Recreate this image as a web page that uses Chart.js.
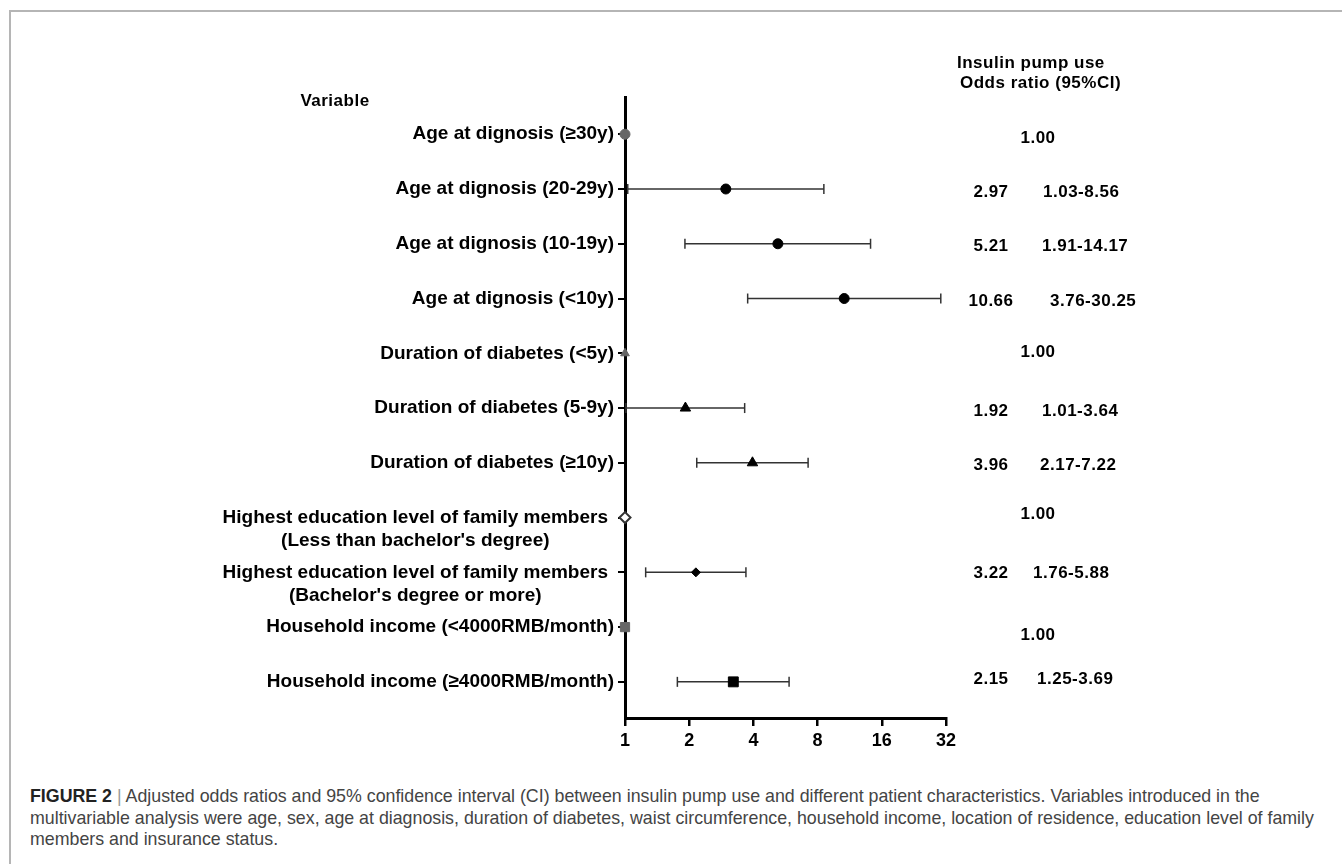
<!DOCTYPE html>
<html>
<head>
<meta charset="utf-8">
<script src="https://cdn.jsdelivr.net/npm/chart.js@4.4.1/dist/chart.umd.min.js"></script>
<style>
  html, body { margin: 0; padding: 0; background: #fff; }
  body { width: 1342px; height: 864px; position: relative; overflow: hidden; font-family: "Liberation Sans", Arial, sans-serif; }
  #frame { position: absolute; left: 9px; top: 10px; width: 1400px; height: 900px; border-left: 2px solid #b5b5b5; border-top: 2px solid #b5b5b5; }
  #chart { position: absolute; left: 0; top: 0; }
  #caption { position: absolute; left: 30px; top: 786px; font-size: 17.8px; line-height: 21.5px; color: #444; white-space: nowrap; }
  #caption b { color: #222; }
  #caption .sep { color: #999; }
</style>
</head>
<body>
<div id="frame"></div>
<canvas id="chart" width="1342" height="760"></canvas>
<div id="caption">
  <b>FIGURE 2</b> <span class="sep">|</span> Adjusted odds ratios and 95% confidence interval (CI) between insulin pump use and different patient characteristics. Variables introduced in the<br>
  multivariable analysis were age, sex, age at diagnosis, duration of diabetes, waist circumference, household income, location of residence, education level of family<br>
  members and insurance status.
</div>
<script>
// rows, top to bottom
const variables = [
    ['Age at dignosis (≥30y)'],
    ['Age at dignosis (20-29y)'],
    ['Age at dignosis (10-19y)'],
    ['Age at dignosis (<10y)'],
    ['Duration of diabetes (<5y)'],
    ['Duration of diabetes (5-9y)'],
    ['Duration of diabetes (≥10y)'],
    ['Highest education level of family members', "(Less than bachelor's degree)"],
    ['Highest education level of family members', "(Bachelor's degree or more)"],
    ['Household income (<4000RMB/month)'],
    ['Household income (≥4000RMB/month)'],
];

// values as plotted in the figure (null = reference group, no interval)
const orPlotted = [1, 2.97, 5.21, 10.66, 1, 1.92, 3.96, 1, 2.15, 1, 3.22];
const ciLower = [null, 1.03, 1.91, 3.76, null, 1.01, 2.17, null, 1.25, null, 1.76];
const ciUpper = [null, 8.56, 14.17, 30.25, null, 3.64, 7.22, null, 3.69, null, 5.88];

// text column on the right
const orText = ['1.00', '2.97', '5.21', '10.66', '1.00', '1.92', '3.96', '1.00', '3.22', '1.00', '2.15'];
const ciText = ['', '1.03-8.56', '1.91-14.17', '3.76-30.25', '', '1.01-3.64', '2.17-7.22', '', '1.76-5.88', '', '1.25-3.69'];

const xTicks = [1, 2, 4, 8, 16, 32];

// marker look per row
const shapes = ['circle', 'circle', 'circle', 'circle', 'triangle', 'triangle', 'triangle', 'rectRot', 'rectRot', 'rect', 'rect'];
const radii = [5, 5, 5, 5, 5, 6, 6, 5.5, 4.5, 6.5, 7];
const fills = ['#666', '#000', '#000', '#000', '#666', '#000', '#000', '#fff', '#000', '#666', '#000'];
const strokes = ['#666', '#000', '#000', '#000', '#666', '#000', '#000', '#333', '#000', '#666', '#000'];
const strokeW = [1, 1, 1, 1, 1, 1, 1, 2, 1, 1, 1];

// layout of the text column
const ciTextX = [0, 1043, 1042, 1050, 0, 1042, 1040, 0, 1033, 0, 1037];
const textDy = [4, 3, 3, 3, -1, 3, 3, -3, 1, 8, -3];

const BOLD = '"Liberation Sans", Arial, sans-serif';

const datasets = [{
    type: 'scatter',
    data: orPlotted.map((v, i) => ({ x: v, y: i })),
    pointStyle: shapes,
    pointRadius: radii,
    backgroundColor: fills,
    borderColor: strokes,
    pointBorderWidth: strokeW,
    clip: false,
    order: 0
}];

variables.forEach((_, i) => {
    if (ciLower[i] == null) return;
    datasets.push({
        type: 'line',
        data: [{ x: ciLower[i], y: i }, { x: ciUpper[i], y: i }],
        borderColor: '#333',
        borderWidth: 1.5,
        pointStyle: 'line',
        pointRotation: 90,
        pointRadius: 5,
        pointBorderWidth: 1.5,
        pointBorderColor: '#333',
        clip: false,
        order: 1
    });
});

const forestText = {
    id: 'forestText',
    afterDraw(chart) {
        const ctx = chart.ctx;
        const y = chart.scales.y;
        ctx.save();
        ctx.fillStyle = '#000';
        ctx.textBaseline = 'middle';

        // row labels
        ctx.font = 'bold 19px ' + BOLD;
        variables.forEach((lines, i) => {
            const py = y.getPixelForValue(i);
            if (lines.length === 1) {
                ctx.textAlign = 'right';
                ctx.fillText(lines[0], 614, py);
            } else {
                const w = ctx.measureText(lines[0]).width;
                ctx.textAlign = 'center';
                lines.forEach((ln, k) => ctx.fillText(ln, 608 - w / 2, py + k * 23));
            }
        });

        // headers + value column
        ctx.font = 'bold 17px ' + BOLD;
        if ('letterSpacing' in ctx) ctx.letterSpacing = '0.5px';
        ctx.textAlign = 'center';
        ctx.fillText('Variable', 335, 101);
        ctx.textAlign = 'left';
        ctx.fillText('Insulin pump use', 957, 63);
        ctx.fillText('Odds ratio (95%CI)', 960, 83);

        variables.forEach((_, i) => {
            const py = y.getPixelForValue(i) + textDy[i];
            if (!ciText[i]) {
                ctx.textAlign = 'center';
                ctx.fillText(orText[i], 1038, py);
            } else {
                ctx.textAlign = 'center';
                ctx.fillText(orText[i], 991, py);
                ctx.textAlign = 'left';
                ctx.fillText(ciText[i], ciTextX[i], py);
            }
        });
        ctx.restore();
    }
};

new Chart(document.getElementById('chart'), {
    type: 'scatter',
    data: { datasets },
    plugins: [forestText],
    options: {
        responsive: false,
        devicePixelRatio: 1,
        animation: false,
        layout: { padding: { left: 617, top: 97, right: 396, bottom: 6 } },
        plugins: { legend: { display: false }, tooltip: { enabled: false } },
        scales: {
            x: {
                type: 'logarithmic',
                min: 1,
                max: 32,
                afterBuildTicks: s => { s.ticks = xTicks.map(v => ({ value: v })); },
                afterFit: s => { s.height = 36; },
                ticks: {
                    autoSkip: false,
                    maxRotation: 0,
                    padding: 4,
                    color: '#000',
                    font: { family: BOLD, size: 18, weight: 'bold' },
                    callback: v => String(v)
                },
                grid: { drawOnChartArea: false, tickLength: 8, color: '#000', lineWidth: 2.5 },
                border: { color: '#000', width: 3 }
            },
            y: {
                type: 'linear',
                reverse: true,
                min: -0.68,
                max: 10.66,
                afterBuildTicks: s => { s.ticks = variables.map((_, i) => ({ value: i })); },
                afterFit: s => { s.width = 8; },
                ticks: { display: false },
                grid: { drawOnChartArea: false, tickLength: 7, color: '#000', lineWidth: 2 },
                border: { color: '#000', width: 3 }
            }
        }
    }
});
</script>
</body>
</html>
